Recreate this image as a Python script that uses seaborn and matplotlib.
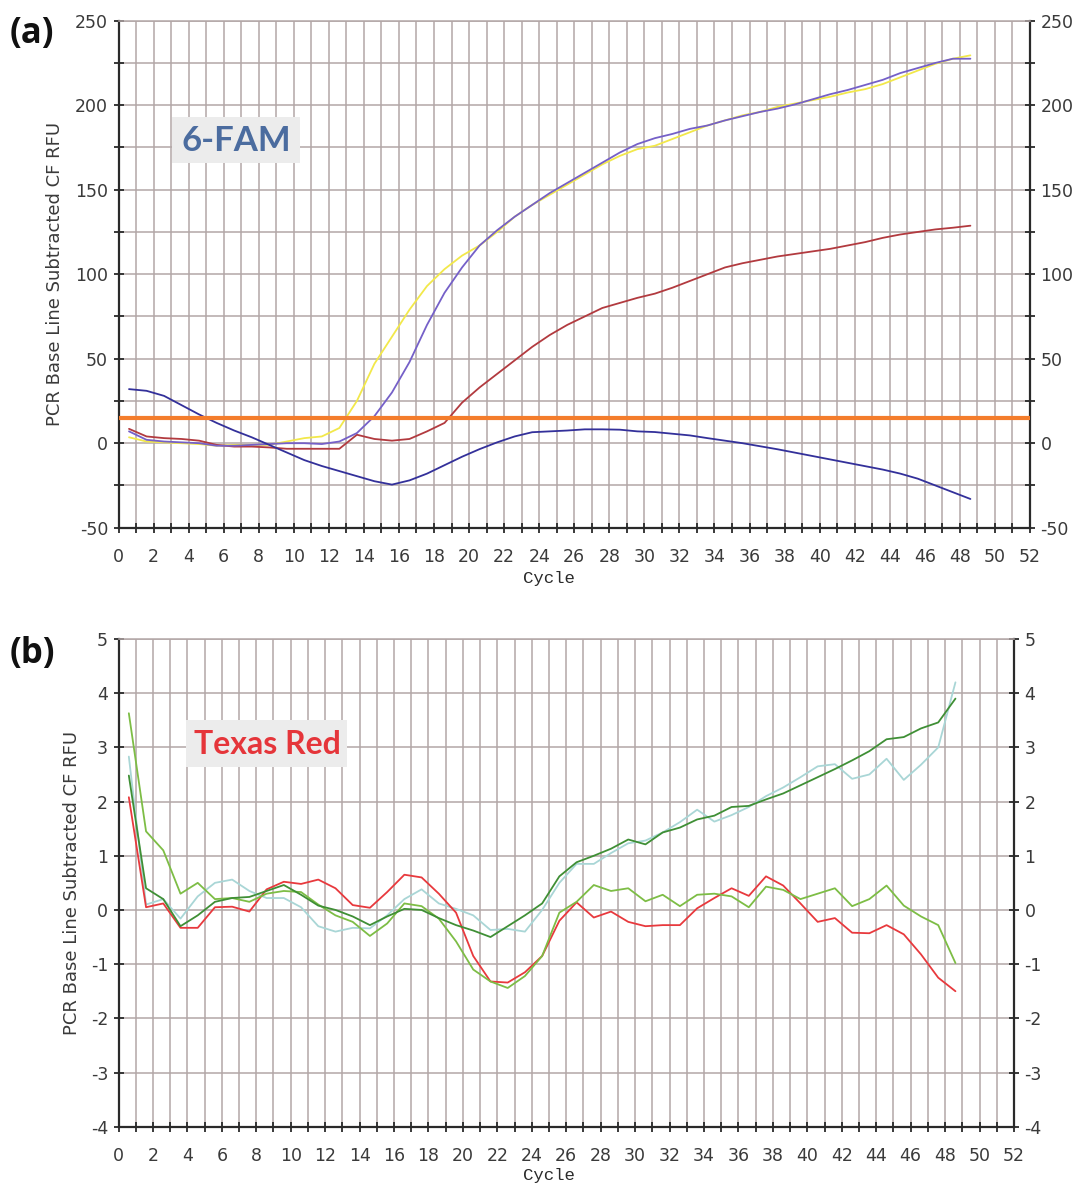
import numpy as np
import pandas as pd
import matplotlib
matplotlib.use("Agg")
import matplotlib.pyplot as plt
import seaborn as sns
from matplotlib.ticker import MultipleLocator
from matplotlib.patches import Rectangle

# ---------------- data ----------------
cycle = np.arange(1, 50) - 0.4   # plotted cycle positions (49 reads)

# Panel (a): 6-FAM
fam_yellow = [3.5, 1, 0.5, 0, -0.5, -1.5, -1, -1, -1, 1, 3, 4, 9, 25, 47, 63, 79, 93, 103,
              111, 117, 125, 134, 141, 147, 153, 159, 165, 170, 174, 176, 180, 184, 188, 191,
              194, 196, 199, 201, 203, 205, 207.5, 209.5, 212.5, 216.5, 220.5, 224.5, 227.5, 229.5]
fam_purple = [7, 2, 1, 0.5, 0, -1.5, -1.5, -1, -0.5, 0, 0, -0.5, 1, 6, 16, 30, 48, 70, 89,
              104, 117, 126, 134, 141, 148, 154, 160, 166, 172, 177, 180.5, 183, 186, 188, 191,
              193.5, 196, 198, 200.5, 203.5, 206.5, 209, 212, 215, 219, 222, 225, 227.5, 227.5]
fam_maroon = [8.5, 4, 3, 2.5, 1.5, -1, -2, -2, -2.5, -3.3, -3.3, -3.3, -3.3, 5, 2.5, 1.5, 2.5,
              7, 12, 24, 33, 41, 49, 57, 64, 70, 75, 80, 83, 86, 88.5, 92, 96, 100, 104, 106.5,
              108.5, 110.5, 112, 113.5, 115, 117, 119, 121.5, 123.5, 125, 126.5, 127.5, 128.7]
fam_blue = [32, 31, 28, 22.5, 17, 12, 7.5, 3.5, -1, -5.5, -10, -13.5, -16.5, -19.5, -22.5,
            -24.5, -22, -18, -13, -8, -3.5, 0.5, 4, 6.5, 7, 7.5, 8.2, 8.2, 8, 7, 6.6, 5.6, 4.6,
            3, 1.5, 0, -1.8, -3.6, -5.6, -7.6, -9.6, -11.6, -13.6, -15.6, -18, -21, -25, -29, -33]
fam_threshold = 15

# Panel (b): Texas Red
tr_red = [2.08, 0.05, 0.12, -0.33, -0.33, 0.05, 0.06, -0.03, 0.38, 0.52, 0.48, 0.56, 0.4,
          0.09, 0.04, 0.33, 0.65, 0.6, 0.3, -0.05, -0.85, -1.32, -1.34, -1.15, -0.85, -0.2,
          0.14, -0.14, -0.03, -0.22, -0.3, -0.28, -0.28, 0.03, 0.22, 0.4, 0.26, 0.62, 0.45,
          0.12, -0.22, -0.15, -0.42, -0.43, -0.28, -0.45, -0.82, -1.25, -1.5]
tr_lightgreen = [3.63, 1.45, 1.1, 0.3, 0.5, 0.2, 0.22, 0.15, 0.3, 0.35, 0.33, 0.1, -0.1,
                 -0.22, -0.48, -0.25, 0.12, 0.07, -0.16, -0.58, -1.1, -1.32, -1.44, -1.22,
                 -0.85, -0.05, 0.15, 0.46, 0.35, 0.4, 0.16, 0.28, 0.07, 0.28, 0.3, 0.25, 0.05,
                 0.43, 0.37, 0.2, 0.3, 0.4, 0.07, 0.2, 0.45, 0.08, -0.12, -0.28, -0.98]
tr_darkgreen = [2.48, 0.4, 0.2, -0.3, -0.1, 0.15, 0.22, 0.24, 0.35, 0.46, 0.28, 0.08, 0.0,
                -0.12, -0.28, -0.12, 0.02, 0.0, -0.15, -0.28, -0.38, -0.5, -0.3, -0.1, 0.12,
                0.62, 0.88, 1.0, 1.13, 1.3, 1.21, 1.43, 1.52, 1.67, 1.74, 1.9, 1.92, 2.04, 2.15,
                2.3, 2.45, 2.6, 2.76, 2.93, 3.15, 3.19, 3.35, 3.46, 3.9]
tr_cyan = [2.83, 0.1, 0.2, -0.16, 0.25, 0.5, 0.56, 0.35, 0.22, 0.22, 0.05, -0.3, -0.4, -0.33,
           -0.34, -0.1, 0.2, 0.38, 0.12, 0.02, -0.1, -0.37, -0.35, -0.4, 0.0, 0.5, 0.85, 0.85,
           1.05, 1.23, 1.28, 1.43, 1.62, 1.85, 1.63, 1.75, 1.9, 2.1, 2.26, 2.45, 2.65, 2.69,
           2.42, 2.5, 2.79, 2.4, 2.68, 3.0, 4.2]

xticks_major = 2
ylabel_text = "PCR Base Line Subtracted CF RFU"

# ---------------- styling ----------------
sns.set_theme(style="white")
plt.rcParams['font.family'] = ['DejaVu Sans']
plt.rcParams['axes.unicode_minus'] = False

W, H = 1078, 1188
fig = plt.figure(figsize=(W / 100, H / 100), dpi=100, facecolor="white")


def rect(l, t, r, b):
    return [l / W, 1 - b / H, (r - l) / W, (b - t) / H]


axA = fig.add_axes(rect(118.5, 20.7, 1030, 527.7))
axB = fig.add_axes(rect(118.5, 639, 1014, 1126.7))

GRID = "#b3a7a7"
SPINE = "#2a2a2a"


def style(ax, ylim, ymajor, yminor):
    ax.set_facecolor("white")
    ax.set_xlim(0, 52)
    ax.set_ylim(*ylim)
    ax.xaxis.set_major_locator(MultipleLocator(xticks_major))
    ax.xaxis.set_minor_locator(MultipleLocator(1))
    ax.yaxis.set_major_locator(MultipleLocator(ymajor))
    if yminor:
        ax.yaxis.set_minor_locator(MultipleLocator(yminor))
    ax.grid(which="both", color=GRID, lw=1.1)
    ax.set_axisbelow(True)
    ax.tick_params(which="both", direction="inout", length=7, width=1.3, color=SPINE,
                   left=True, right=True, bottom=True, top=False,
                   labelleft=True, labelright=True)
    ax.tick_params(axis="both", which="major", labelsize=12.5, labelcolor="#3a3a3a")
    ax.tick_params(axis="x", which="major", pad=11)
    ax.tick_params(axis="y", which="major", pad=4)
    for s in ["left", "right", "bottom"]:
        ax.spines[s].set_color(SPINE)
        ax.spines[s].set_linewidth(1.6)
    ax.spines["top"].set_color(GRID)
    ax.spines["top"].set_linewidth(1.1)


# ---- panel a ----
dfA = pd.DataFrame({
    "Cycle": np.tile(cycle, 4),
    "RFU": np.concatenate([fam_yellow, fam_maroon, fam_purple, fam_blue]),
    "Well": np.repeat(["yellow", "maroon", "purple", "blue"], len(cycle)),
})
palA = {"yellow": "#f2e84a", "maroon": "#b23a3f", "purple": "#7560c8", "blue": "#33309a"}
sns.lineplot(data=dfA, x="Cycle", y="RFU", hue="Well", palette=palA, ax=axA,
             legend=False, estimator=None, sort=False, lw=1.3, zorder=3)
axA.axhline(fam_threshold, color="#f47d2c", lw=3.0, zorder=4)
style(axA, (-50, 250), 50, 25)

# ---- panel b ----
dfB = pd.DataFrame({
    "Cycle": np.tile(cycle, 4),
    "RFU": np.concatenate([tr_cyan, tr_red, tr_lightgreen, tr_darkgreen]),
    "Well": np.repeat(["cyan", "red", "lightgreen", "darkgreen"], len(cycle)),
})
palB = {"cyan": "#a9d6d6", "red": "#e8393d", "lightgreen": "#7dbd45", "darkgreen": "#3f8f35"}
sns.lineplot(data=dfB, x="Cycle", y="RFU", hue="Well", palette=palB, ax=axB,
             legend=False, estimator=None, sort=False, lw=1.3, zorder=3)
style(axB, (-4, 5), 1, None)

# labels
for ax, lx, xl in [(axA, -0.060, (0.472, -0.085)), (axB, -0.042, (0.481, -0.085))]:
    ax.set_ylabel(ylabel_text, fontsize=13, color="#3a3a3a")
    ax.yaxis.set_label_coords(lx, 0.5)
    ax.set_xlabel("Cycle", fontsize=12.5, color="#2a2a2a", family="Liberation Mono")
    ax.xaxis.set_label_coords(*xl)

# dye name boxes
axA.add_patch(Rectangle((0.0586, 0.719), 0.1401, 0.091, transform=axA.transAxes,
                        facecolor="#ececec", edgecolor="none", zorder=5))
axA.text(0.1297, 0.7637, "6-FAM", transform=axA.transAxes, ha="center", va="center",
         fontsize=25, fontweight="bold", family="Lato", color="#4b6c9f", zorder=6)
axB.add_patch(Rectangle((0.0752, 0.7375), 0.1805, 0.0965, transform=axB.transAxes,
                        facecolor="#ececec", edgecolor="none", zorder=5))
axB.text(0.166, 0.7827, "Texas Red", transform=axB.transAxes, ha="center", va="center",
         fontsize=23, fontweight="bold", family="Lato", color="#e5353a", zorder=6)

# panel letters
fig.text(10 / W, 1 - 34 / H, "(a)", fontsize=25, fontweight="bold", family="Open Sans",
         ha="left", va="center", color="#111111")
fig.text(10 / W, 1 - 654 / H, "(b)", fontsize=25, fontweight="bold", family="Open Sans",
         ha="left", va="center", color="#111111")

fig.savefig("out.png", dpi=100, facecolor="white")
